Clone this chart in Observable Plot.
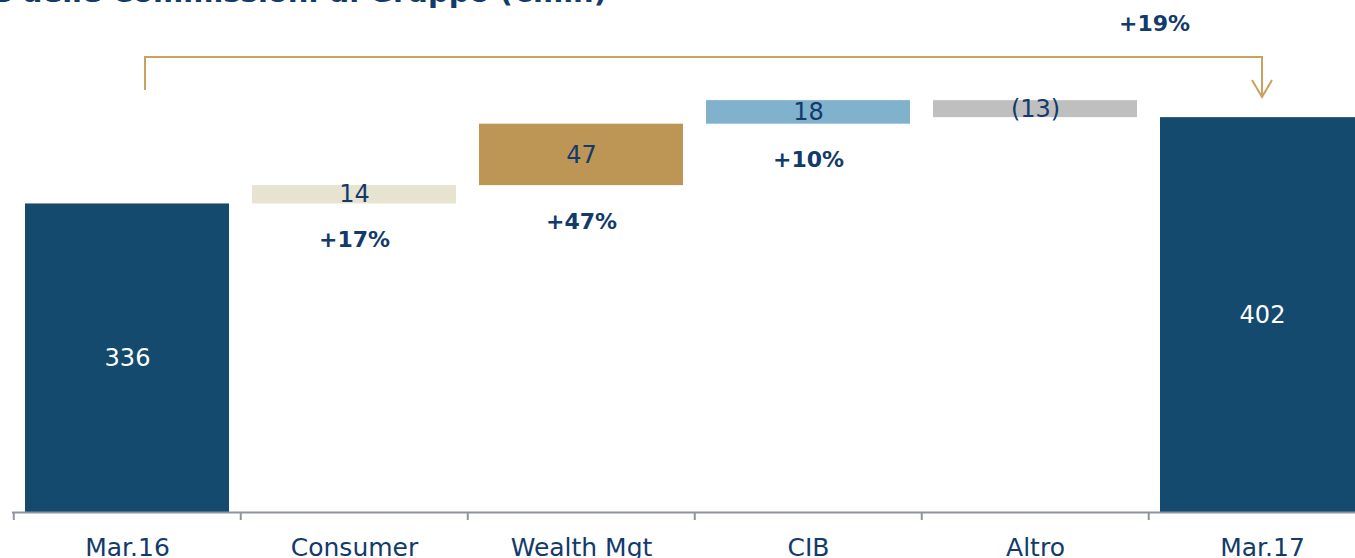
<!DOCTYPE html>
<html><head><meta charset="utf-8">
<script src="https://cdn.jsdelivr.net/npm/d3@7"></script>
<script src="https://cdn.jsdelivr.net/npm/@observablehq/plot@0.6"></script>
<style>
html,body{margin:0;padding:0;background:#fff;overflow:hidden;width:1355px;height:558px;position:relative}
#title{position:absolute;right:748px;top:-22px;white-space:nowrap;font:bold 29px "DejaVu Sans",sans-serif;color:#123a6b;line-height:1;z-index:2}
#chart{position:absolute;left:0;top:0;width:1355px;height:558px;overflow:hidden;z-index:1}
#chart svg{max-width:none !important;}
</style></head><body>
<div id="title">Evoluzione delle Commissioni di Gruppo (€mln)</div>
<div id="chart"></div>
<script>
const categories = ["Mar.16", "Consumer", "Wealth Mgt", "CIB", "Altro", "Mar.17"];
const values = [336, 14, 47, 18, -13, 402];
const isTotal = [true, false, false, false, false, true];
const valueLabels = ["336", "14", "47", "18", "(13)", "402"];
const growthLabels = ["", "+17%", "+47%", "+10%", "", ""];
const barColors = ["#144a6e", "#e8e2d0", "#bd9655", "#80b1cd", "#bfbfbf", "#144a6e"];
const totalGrowth = "+19%";

// axis / annotation levels (value units)
const axisStart = 100;
const axisTop = 491.6;
const bracketLevel = 448;
const bracketStartLevel = 422.7;
const arrowTipLevel = 417.4;
const growthLabelLevel = 474;

const navy = "#123a6b";
const gold = "#c9a25e";
const axisGray = "#8e939e";

const W = 1377, H = 558, ML = 12, MR = 0, MT = 0, MB = 46;
const step = (W - ML - MR) / categories.length;
const tickLen = 8 * (axisTop - axisStart) / (H - MT - MB);

let run = 0;
const rows = categories.map((c, i) => {
  let lo, hi;
  if (isTotal[i]) { lo = axisStart; hi = values[i]; run = values[i]; }
  else { const s = run; run += values[i]; lo = Math.min(s, run); hi = Math.max(s, run); }
  return {cat: c, lo, hi, mid: (lo + hi) / 2, label: valueLabels[i], growth: growthLabels[i],
          color: barColors[i], textColor: isTotal[i] ? "#ffffff" : navy};
});

function bracket(index, scales) {
  const x = scales.x, y = scales.y;
  const bw = x.bandwidth ? x.bandwidth() : step * 0.9;
  const xl = x(categories[0]) + bw / 2 + 18;
  const xr = x(categories[categories.length - 1]) + bw / 2;
  const yb = y(bracketLevel), ys = y(bracketStartLevel), yt = y(arrowTipLevel);
  const g = d3.create("svg:g").attr("fill", "none").attr("stroke", gold).attr("stroke-width", 2);
  g.append("path").attr("d", `M${xl},${ys}V${yb}H${xr}V${yt}`);
  g.append("path").attr("d", `M${xr - 10},${yt - 17}L${xr},${yt}L${xr + 10},${yt - 17}`);
  return g.node();
}

const chart = Plot.plot({
  width: W, height: H,
  marginLeft: ML, marginRight: MR, marginTop: MT, marginBottom: MB,
  style: {fontFamily: "DejaVu Sans, sans-serif", background: "transparent", overflow: "visible", maxWidth: "none"},
  x: {domain: categories, paddingInner: 0.1, paddingOuter: 0.05, axis: null},
  y: {domain: [axisStart, axisTop], axis: null},
  color: {type: "identity"},
  marks: [
    Plot.barY(rows, {x: "cat", y1: "lo", y2: "hi", fill: "color"}),
    Plot.ruleY([axisStart], {stroke: axisGray, strokeWidth: 2}),
    Plot.ruleX(categories, {x: d => d, dx: -step / 2, y1: axisStart, y2: axisStart - tickLen, stroke: axisGray, strokeWidth: 2}),
    Plot.text(rows, {x: "cat", y: "mid", text: "label", fill: "textColor", fontSize: 24}),
    Plot.text(rows.filter(d => d.growth), {x: "cat", y: "lo", dy: 36, text: "growth", fill: navy, fontSize: 22, fontWeight: "bold"}),
    Plot.text(categories, {x: d => d, y: axisStart, dy: 43, lineAnchor: "bottom", text: d => d, fill: navy, fontSize: 25}),
    bracket,
    Plot.text([{cat: categories[categories.length - 1], t: totalGrowth}], {x: "cat", y: () => growthLabelLevel, dx: -108, text: "t", fill: navy, fontSize: 22, fontWeight: "bold"})
  ]
});
document.getElementById("chart").appendChild(chart);
</script>
</body></html>
